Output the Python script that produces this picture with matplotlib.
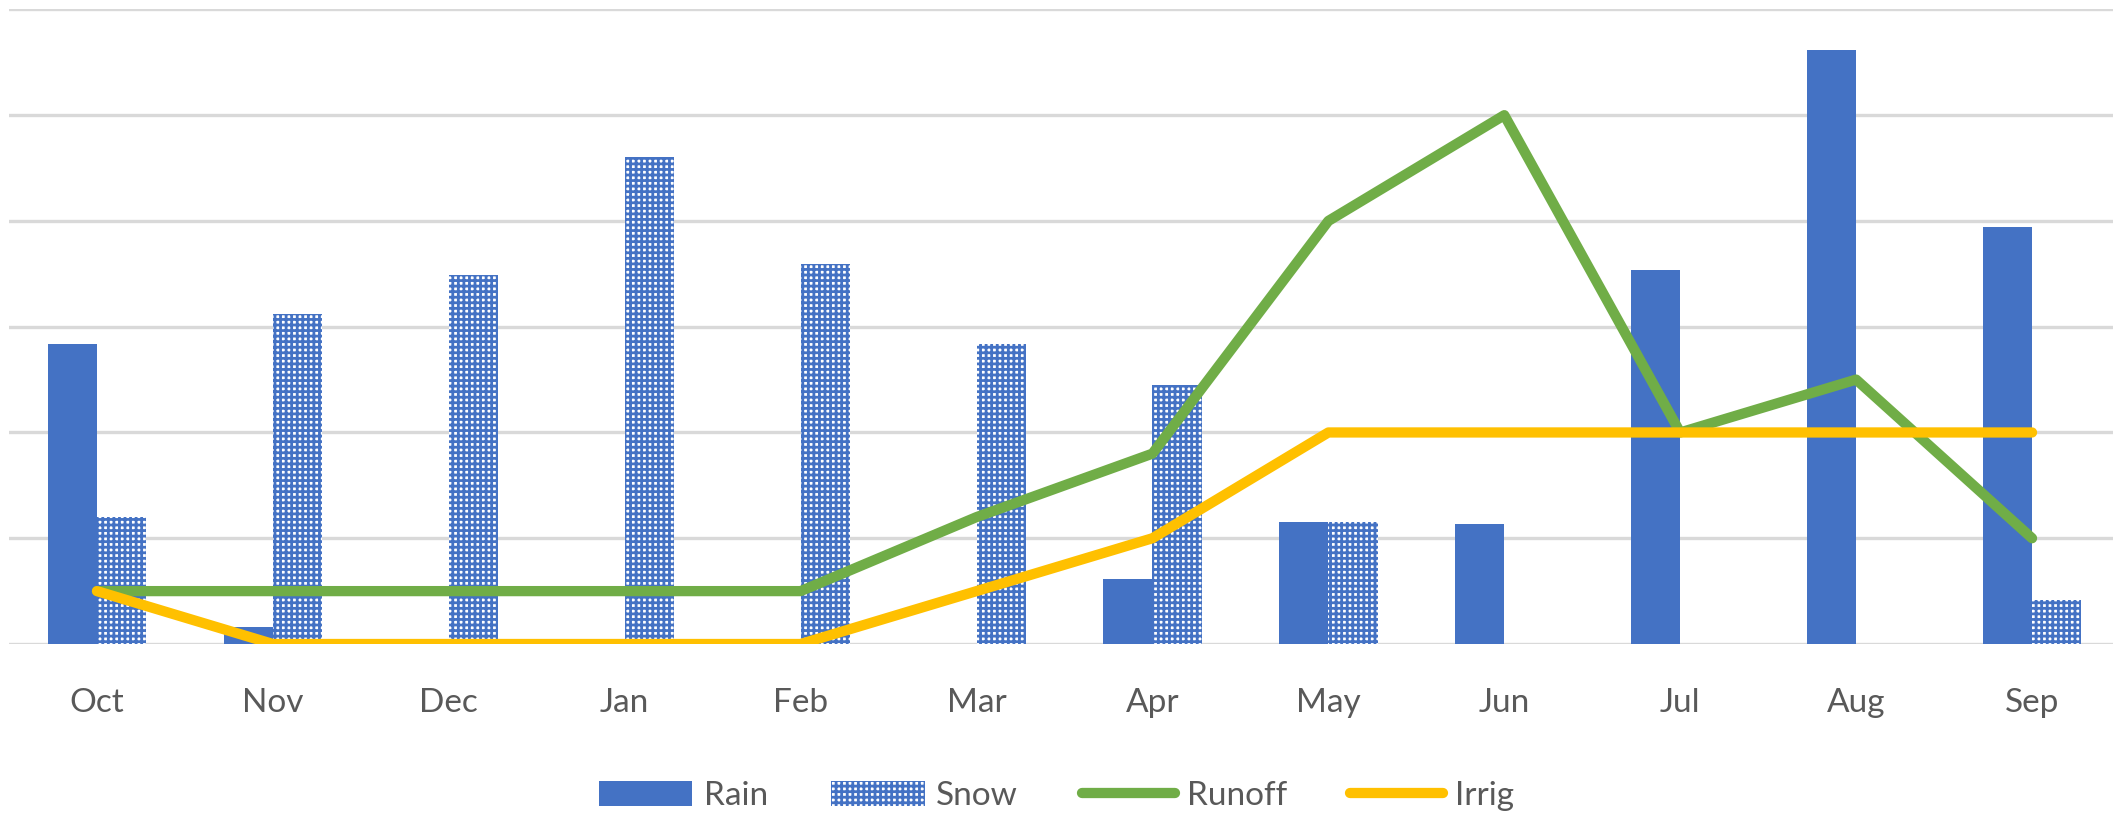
import matplotlib
matplotlib.use("Agg")
import matplotlib.pyplot as plt
import numpy as np

months = ["Oct", "Nov", "Dec", "Jan", "Feb", "Mar", "Apr", "May", "Jun", "Jul", "Aug", "Sep"]
rain = [2.84, 0.16, 0, 0, 0, 0, 0.61, 1.15, 1.13, 3.54, 5.62, 3.94]
snow = [1.20, 3.12, 3.49, 4.60, 3.59, 2.84, 2.45, 1.15, 0, 0, 0, 0.42]
runoff = [0.5, 0.5, 0.5, 0.5, 0.5, 1.2, 1.8, 4.0, 5.0, 2.0, 2.5, 1.0]
irrig = [0.5, 0, 0, 0, 0, 0.5, 1.0, 2.0, 2.0, 2.0, 2.0, 2.0]

plt.rcParams['font.family'] = ['Lato', 'DejaVu Sans']
plt.rcParams['hatch.linewidth'] = 2.0

W, H = 2113, 818
fig = plt.figure(figsize=(W / 100, H / 100), dpi=100)
ax = fig.add_axes([9 / W, (H - 644) / H, 2111 / W, (644 - 9.4) / H])

x = np.arange(len(months))
bw = 0.28
h_rain = ax.bar(x - bw / 2, rain, bw, color='#4472C4', zorder=2, label='Rain')
h_snow = ax.bar(x + bw / 2, snow, bw, facecolor='white', edgecolor='#4472C4', linewidth=0,
                hatch='+++', zorder=2, label='Snow')
h_run, = ax.plot(x, runoff, color='#70AD47', lw=7.4, solid_capstyle='round', solid_joinstyle='round',
                 zorder=3, label='Runoff')
h_irr, = ax.plot(x, irrig, color='#FFC000', lw=7.4, solid_capstyle='round', solid_joinstyle='round',
                 zorder=4, label='Irrig')

ax.set_xlim(-0.5, len(months) - 0.5)
ax.set_ylim(0, 6)
ax.set_yticks(range(0, 7))
ax.yaxis.grid(True, color='#d9d9d9', lw=2.4, zorder=0)
ax.set_axisbelow(True)
ax.tick_params(axis='y', left=False, labelleft=False)
ax.set_xticks(x)
ax.set_xticklabels(months, fontsize=24, color='#595959')
ax.tick_params(axis='x', bottom=False, pad=28)
for s in ax.spines.values():
    s.set_visible(False)

leg = fig.legend([h_rain, h_snow, h_run, h_irr], ['Rain', 'Snow', 'Runoff', 'Irrig'],
                 loc='center', bbox_to_anchor=(0.5, (H - 796) / H), ncol=4, frameon=False,
                 fontsize=24, handlelength=2.8, handleheight=0.8, handletextpad=0.35,
                 columnspacing=1.9, labelcolor='#595959')

fig.savefig('out.png', dpi=100)
